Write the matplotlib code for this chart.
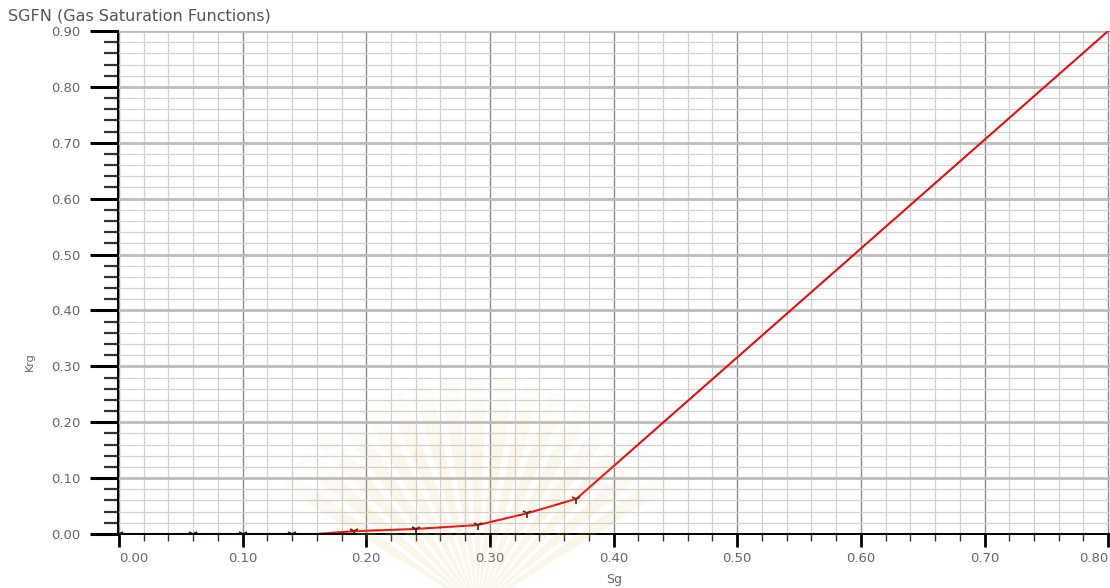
import matplotlib
matplotlib.use('Agg')
import matplotlib.pyplot as plt
import matplotlib.transforms as mtransforms
import numpy as np
from matplotlib.ticker import MultipleLocator
from matplotlib.patches import Wedge

# Gas relative permeability table (SGFN)
sg = [0.00, 0.06, 0.10, 0.14, 0.16, 0.19, 0.24, 0.29, 0.33, 0.37, 0.80]
krg = [0.000, 0.000, 0.000, 0.000, 0.000, 0.005, 0.009, 0.016, 0.037, 0.063, 0.900]
# points that carry a marker in the table view
marked = [0, 1, 2, 3, 5, 6, 7, 8, 9]

x_ticks = [0.0, 0.1, 0.2, 0.3, 0.4, 0.5, 0.6, 0.7, 0.8]
y_ticks = [0.0, 0.1, 0.2, 0.3, 0.4, 0.5, 0.6, 0.7, 0.8, 0.9]

fig = plt.figure(figsize=(11.1, 5.88), dpi=100)
ax = fig.add_axes([118 / 1110, 54 / 588, 1 - 118 / 1110, 503 / 588])

ax.set_xlim(-0.0008, 0.8015)
ax.set_ylim(0, 0.90)

# grid: fine lines every 0.02, heavier every 0.1
ax.xaxis.set_major_locator(MultipleLocator(0.1))
ax.xaxis.set_minor_locator(MultipleLocator(0.02))
ax.yaxis.set_major_locator(MultipleLocator(0.1))
ax.yaxis.set_minor_locator(MultipleLocator(0.02))
ax.grid(which='minor', color='#d2d2d2', linewidth=0.9)
ax.grid(which='major', axis='x', color='#8c8c8c', linewidth=1.0)
ax.grid(which='major', axis='y', color='#bcbcbc', linewidth=2.0)
ax.set_axisbelow(True)

ax.plot(sg, krg, color='#e01010', linewidth=1.5, zorder=3)
ax.plot([sg[i] for i in marked], [krg[i] for i in marked], linestyle='none',
        marker='1', markersize=7, markeredgewidth=1.3, color='#5a1414', zorder=4)

for s in ['top', 'right']:
    ax.spines[s].set_visible(False)
ax.spines['left'].set_linewidth(1.4)
ax.spines['bottom'].set_linewidth(1.4)
ax.spines['left'].set_zorder(5)
ax.spines['bottom'].set_zorder(5)

ax.set_xticks(x_ticks)
ax.set_yticks(y_ticks)
ax.set_xticklabels([f'{v:.2f}' for v in x_ticks])
ax.set_yticklabels([f'{v:.2f}' for v in y_ticks])
ax.tick_params(axis='y', which='major', length=20, width=2.2, pad=7,
               labelsize=9.5, labelcolor='#666666', color='black')
ax.tick_params(axis='y', which='minor', length=10, width=1.6, color='#333333')
ax.tick_params(axis='x', which='major', length=9, width=2.0, pad=4,
               labelsize=9.5, labelcolor='#666666', color='black')
ax.tick_params(axis='x', which='minor', length=5, width=1.0, color='#333333')
ax.get_xticklabels()[0].set_horizontalalignment('left')
ax.get_xticklabels()[-1].set_horizontalalignment('right')

ax.set_xlabel('Sg', fontsize=9, color='#666666', labelpad=6)
fig.text(30 / 1110, 1 - 362 / 588, 'Krg', fontsize=8, color='#666666',
         rotation=90, ha='center', va='center')

fig.text(8 / 1110, 1 - 16 / 588, 'SGFN (Gas Saturation Functions)',
         fontsize=11.5, color='#555555', va='center', ha='left')

# faint sunburst emblem over the lower middle of the plot (pixel coordinates),
# built from several soft layers so the rays fade out
for r, alpha in [(230, 0.05), (200, 0.05), (170, 0.05)]:
    for a0 in np.arange(32, 148, 7):
        w = Wedge((478, -20), r, a0, a0 + 4.5, facecolor='#e8cc70', edgecolor='none',
                  alpha=alpha, zorder=6, transform=mtransforms.IdentityTransform())
        fig.add_artist(w)

fig.savefig('out.png', dpi=100)
